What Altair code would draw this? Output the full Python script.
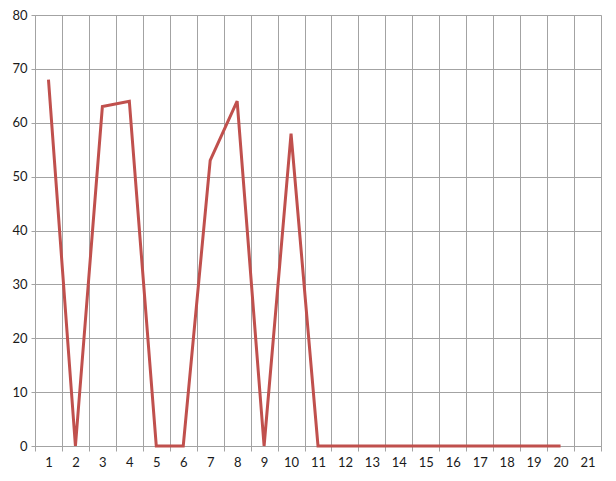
import altair as alt
import pandas as pd

categories = list(range(1, 21))
values = [68, 0, 63, 64, 0, 0, 53, 64, 0, 58, 0, 0, 0, 0, 0, 0, 0, 0, 0, 0]
axis_categories = list(range(1, 22))

df = pd.DataFrame({"cat": categories, "value": values})

FONT = "Lato"
GRID = "#a3a3a3"

line = alt.Chart(df).mark_line(color="#c0504d", strokeWidth=3).encode(
    x=alt.X(
        "cat:O",
        scale=alt.Scale(domain=axis_categories, paddingInner=0, paddingOuter=0),
        axis=alt.Axis(
            title=None,
            labelAngle=0,
            tickBand="extent",
            grid=True,
            gridColor=GRID,
            gridWidth=1,
            domainColor=GRID,
            tickColor=GRID,
            tickSize=5,
            labelPadding=5,
            labelFont=FONT,
            labelFontSize=13,
            labelColor="#1a1a1a",
        ),
    ),
    y=alt.Y(
        "value:Q",
        scale=alt.Scale(domain=[0, 80], nice=False),
        axis=alt.Axis(
            title=None,
            values=list(range(0, 81, 10)),
            grid=True,
            gridColor=GRID,
            gridWidth=1,
            domain=True,
            domainColor=GRID,
            tickColor=GRID,
            tickSize=4,
            labelPadding=4,
            labelFont=FONT,
            labelFontSize=13,
            labelColor="#1a1a1a",
        ),
    ),
)

chart = line.properties(
    width=566,
    height=431,
    autosize=alt.AutoSizeParams(type="none"),
    padding={"left": 27, "top": 7, "right": 7, "bottom": 30},
).configure_view(stroke=None).configure(background="white")

chart.save("out.html", embed_options={"renderer": "svg", "actions": False})
